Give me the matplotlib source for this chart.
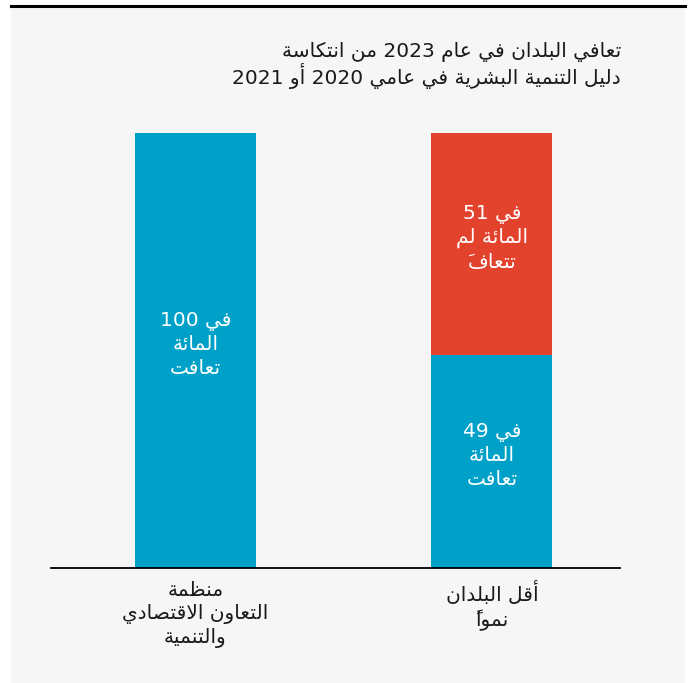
import matplotlib
matplotlib.use("Agg")
import matplotlib.pyplot as plt
from matplotlib.patches import Rectangle
from matplotlib.lines import Line2D

plt.rcParams['font.family'] = ['DejaVu Sans']

# data
categories = [["منظمة", "التعاون الاقتصادي", "والتنمية"], ["أقل البلدان", "نمواً"]]
recovered = [100, 49]
not_recovered = [0, 51]
title_lines = ["تعافي البلدان في عام 2023 من انتكاسة",
               "دليل التنمية البشرية في عامي 2020 أو 2021"]

# minimal arabic shaping (presentation forms) + visual reordering
_dual = {'ئ': 0xFE89, 'ب': 0xFE8F, 'ت': 0xFE95, 'ث': 0xFE99, 'ج': 0xFE9D, 'ح': 0xFEA1,
         'خ': 0xFEA5, 'س': 0xFEB1, 'ش': 0xFEB5, 'ص': 0xFEB9, 'ض': 0xFEBD, 'ط': 0xFEC1,
         'ظ': 0xFEC5, 'ع': 0xFEC9, 'غ': 0xFECD, 'ف': 0xFED1, 'ق': 0xFED5, 'ك': 0xFED9,
         'ل': 0xFEDD, 'م': 0xFEE1, 'ن': 0xFEE5, 'ه': 0xFEE9, 'ي': 0xFEF1}
_right = {'آ': 0xFE81, 'أ': 0xFE83, 'ؤ': 0xFE85, 'إ': 0xFE87, 'ا': 0xFE8D, 'ة': 0xFE93,
          'د': 0xFEA9, 'ذ': 0xFEAB, 'ر': 0xFEAD, 'ز': 0xFEAF, 'و': 0xFEED, 'ى': 0xFEEF}
_lamalef = {'آ': 0xFEF5, 'أ': 0xFEF7, 'إ': 0xFEF9, 'ا': 0xFEFB}


def _kind(c):
    if c in _dual:
        return 'D'
    if c in _right or c == 'LA':
        return 'R'
    if '\u064b' <= c <= '\u0652':
        return 'T'
    return 'U'


def rtl(text):
    items = []
    i = 0
    while i < len(text):
        c = text[i]
        if c == 'ل' and i + 1 < len(text) and text[i + 1] in _lamalef:
            items.append(('LA', _lamalef[text[i + 1]]))
            i += 2
        else:
            items.append((c, None))
            i += 1
    kinds = [_kind(c) for c, _ in items]
    glyphs = []
    for i, (c, lig) in enumerate(items):
        k = kinds[i]
        if k in 'DR':
            p = i - 1
            while p >= 0 and kinds[p] == 'T':
                p -= 1
            n = i + 1
            while n < len(items) and kinds[n] == 'T':
                n += 1
            jp = p >= 0 and kinds[p] == 'D'
            jn = k == 'D' and n < len(items) and kinds[n] in 'DR'
            if k == 'D':
                g = _dual[c] + (3 if jp and jn else 1 if jp else 2 if jn else 0)
            else:
                base = lig if c == 'LA' else _right[c]
                g = base + (1 if jp else 0)
            glyphs.append((chr(g), k))
        else:
            glyphs.append((c, k))
    # marks go in front of their base (visual order)
    clusters = []
    for g, k in glyphs:
        if k == 'T' and clusters:
            clusters[-1] = g + clusters[-1]
        else:
            clusters.append(g)
    clusters.reverse()
    out = []
    run = []
    for cl in clusters:
        if cl[-1].isdigit():
            run.append(cl)
        else:
            out.extend(reversed(run))
            run = []
            out.append(cl)
    out.extend(reversed(run))
    return ''.join(out)


W, H = 691, 683
fig = plt.figure(figsize=(W / 100, H / 100), dpi=100, facecolor='white')
fig.patches.append(Rectangle((11 / W, 0), (685 - 11) / W, (H - 6) / H, transform=fig.transFigure,
                             facecolor='#f6f6f6', edgecolor='none', zorder=-2))
fig.add_artist(Line2D([11 / W, 685 / W], [1 - 6 / H] * 2, color='black', lw=2.2, zorder=-1))

ax = fig.add_axes([51 / W, (H - 568) / H, (620 - 51) / W, (568 - 133) / H])
ax.set_facecolor('none')

blue = '#00a1c9'
red = '#e3422d'
x = [0, 1]
ax.bar(x, recovered, width=0.408, color=blue)
ax.bar(x, not_recovered, bottom=recovered, width=0.408, color=red)
ax.set_xlim(-0.487, 1.432)
ax.set_ylim(0, 100)

for s in ['top', 'left', 'right']:
    ax.spines[s].set_visible(False)
ax.spines['bottom'].set_linewidth(1.3)
ax.spines['bottom'].set_color('black')
ax.set_yticks([])
ax.set_xticks(x, ['\n'.join(rtl(l) for l in cat) for cat in categories])
ax.tick_params(axis='x', length=0, pad=9, labelsize=14.5, labelcolor='#1a1a1a')
for t in ax.get_xticklabels():
    t.set_linespacing(1.3)

for i in x:
    v = recovered[i]
    lab = f"{v} " + rtl("في") + "\n" + rtl("المائة") + "\n" + rtl("تعافت")
    ax.text(i, v / 2 + 1.3, lab, ha='center', va='center', color='white', fontsize=14.5,
            linespacing=1.3)
    u = not_recovered[i]
    if u > 0:
        lab = f"{u} " + rtl("في") + "\n" + rtl("المائة لم") + "\n" + rtl("تتعافَ")
        ax.text(i, v + u / 2 + 1.3, lab, ha='center', va='center', color='white', fontsize=14.5,
                linespacing=1.3)

fig.text(621 / W, 1 - 42 / H, '\n'.join(rtl(l) for l in title_lines), ha='right', va='top',
         multialignment='right', fontsize=14.5, color='#1a1a1a', linespacing=1.05)

fig.savefig('out.png', dpi=100, facecolor=fig.get_facecolor())
